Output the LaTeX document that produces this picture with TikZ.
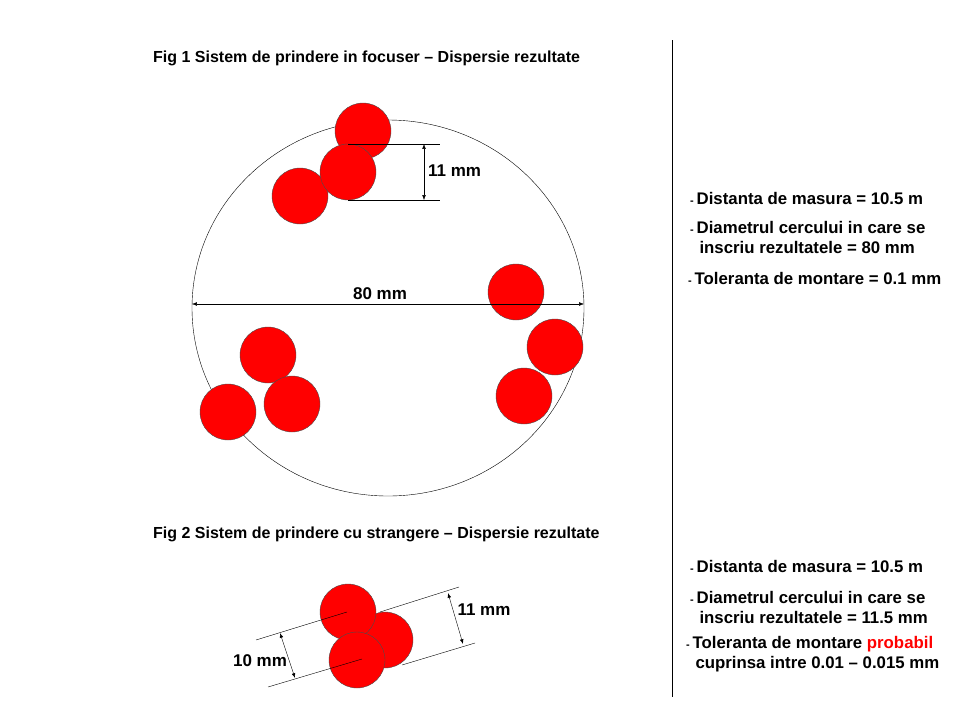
\documentclass[tikz,border=0pt]{standalone}
\usepackage{fontspec}
\setmainfont{Liberation Sans}
\usetikzlibrary{arrows.meta}
\newcommand{\dsh}{{\fontsize{11}{11}\selectfont -}\,}
\tikzset{
  shot/.style={circle,draw=black!70,fill=red,minimum size=56pt,inner sep=0pt},
  dim/.style={Latex-Latex,thin},
  ttl/.style={font=\fontsize{16}{18}\selectfont\bfseries,inner sep=0pt,anchor=west},
  lbl/.style={font=\fontsize{17}{19}\selectfont\bfseries,inner sep=0pt},
  note/.style={font=\fontsize{16.8}{20}\selectfont\bfseries,inner sep=0pt,anchor=west,align=left}
}
\begin{document}
\begin{tikzpicture}[x=1pt,y=-1pt]
                \useasboundingbox (0,0) rectangle (960,720);
                \draw (672,40)--(672,697);

                % Fig 1
                \node[ttl] (t1) at (153,58) {Fig 1 Sistem de prindere in focuser -- Dispersie rezultate};
                \draw (388,308) ellipse [x radius=196,y radius=188];
                \foreach \x/\y [count=\i] in {363/131,300/196,348/172,516/292,555/347,524/396,268/355,228/412,292/404}
                    \node[shot] (s\i) at (\x,\y) {};
                \draw (348,144)--(440,144);
                \draw (348,200)--(440,200);
                \draw[dim] (424,144)--(424,200);
                \node[lbl,anchor=west] (d11) at (428,171) {11 mm};
                \draw[dim] (192,304)--(584,304);
                \node[lbl] (d80) at (380,294) {80 mm};

                \node[note] (n1) at (690,198) {\dsh Distanta de masura = 10.5 m};
                \node[note] (n2) at (690,237) {\dsh Diametrul cercului in care se\\\ \ inscriu rezultatele = 80 mm};
                \node[note] (n3) at (688,278) {\dsh Toleranta de montare = 0.1 mm};

                % Fig 2
                \node[ttl] (t2) at (153,534) {Fig 2 Sistem de prindere cu strangere -- Dispersie rezultate};
                \node[shot] (b2) at (385,640) {};
                \node[shot] (b1) at (348,612) {};
                \node[shot] (b3) at (357,660) {};
                \draw (256,640)--(347,612);
                \draw (268,687)--(362,659);
                \draw (380,612)--(459,587);
                \draw (402,665)--(475,643);
                \draw[dim] (280,633)--(295,678);
                \draw[dim] (448,593)--(463,644);
                \node[lbl] (d10) at (260,661) {10 mm};
                \node[lbl] (d11b) at (484,610) {11 mm};

                \node[note] (m1) at (690,566) {\dsh Distanta de masura = 10.5 m};
                \node[note] (m2) at (690,607) {\dsh Diametrul cercului in care se\\\ \ inscriu rezultatele = 11.5 mm};
                \node[note] (m3) at (686,654) {\dsh Toleranta de montare \textcolor{red}{probabil}\\\ \ cuprinsa intre 0.01 -- 0.015 mm};
            \end{tikzpicture}
\end{document}
